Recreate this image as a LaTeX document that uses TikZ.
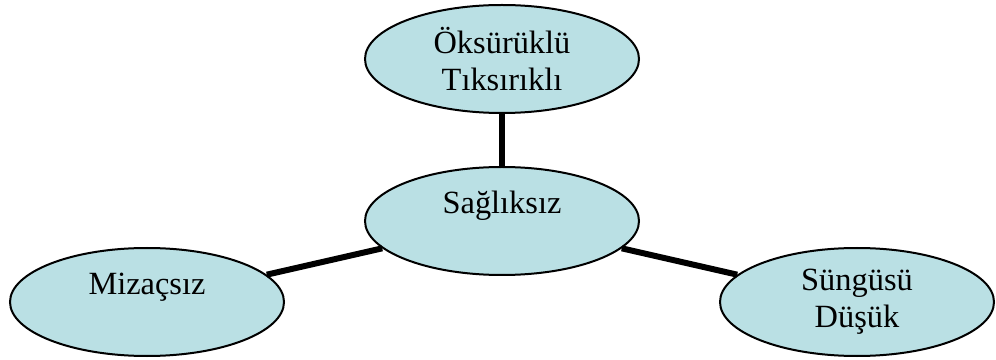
\documentclass[tikz,border=0pt]{standalone}
\usepackage{fontspec}
\setmainfont{Liberation Serif}
\usepackage{tikz}
\usetikzlibrary{shapes.geometric, positioning}
\definecolor{elpfill}{RGB}{186,224,228}

\begin{document}
\begin{tikzpicture}[
    x=1pt, y=1pt,
    every node/.style={font=\fontsize{16.2}{18.5}\selectfont},
    elp/.style={ellipse, draw=black, line width=1pt, fill=elpfill, minimum width=137pt, minimum height=54pt, inner sep=0pt, align=center},
    link/.style={line width=3pt, draw=black}
]
\useasboundingbox (0,0) rectangle (498,179.5);
% Centre and the three around it
\node[elp] (sag) at (251,69) {Sağlıksız\\~};
\node[elp] (oks) at (251,150) {Öksürüklü\\Tıksırıklı};
\node[elp] (miz) at (73.5,28.5) {Mizaçsız\\~};
\node[elp] (sun) at (428.5,28.5) {Süngüsü\\Düşük};
\foreach \other in {oks, miz, sun}{
    \draw[link] (sag) -- (\other);
}
\end{tikzpicture}
\end{document}
